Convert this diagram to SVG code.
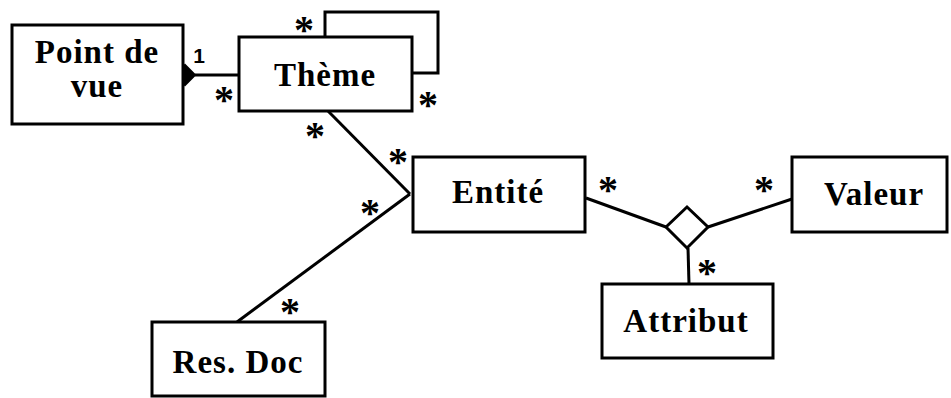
<svg xmlns="http://www.w3.org/2000/svg" width="951" height="398" viewBox="0 0 951 398">
<style>
.box{fill:#fff;stroke:#000;stroke-width:3}
.lbl{font-family:"Liberation Serif","Times New Roman",serif;font-weight:bold;font-size:33px;text-anchor:middle;fill:#000;letter-spacing:1px}
.m{font-family:"Liberation Serif","Times New Roman",serif;font-weight:bold;font-size:40px;text-anchor:middle;fill:#000}
.one{font-family:"Liberation Sans",Arial,sans-serif;font-weight:bold;font-size:21px;text-anchor:middle;fill:#000}
.ln{fill:none;stroke:#000;stroke-width:3}
</style>
<rect width="951" height="398" fill="#fff"/>
<g id="connectors">
<line class="ln" x1="195" y1="75" x2="239" y2="75"/>
<path class="ln" d="M325 37 V12 H438 V73 H412"/>
<line class="ln" x1="328" y1="111" x2="410" y2="194"/>
<line class="ln" x1="237" y1="322" x2="410" y2="194"/>
<line class="ln" x1="586" y1="198" x2="666" y2="227"/>
<line class="ln" x1="708" y1="227" x2="792" y2="199"/>
<line class="ln" x1="688" y1="248" x2="689" y2="284"/>
<polygon points="175,75 185,65 195,75 185,85" fill="#000" stroke="#000" stroke-width="2"/>
<polygon class="box" points="666,227 687,207 708,227 687,248"/>
<text class="one" x="199" y="63">1</text>
<text class="m" x="224" y="113">*</text>
<text class="m" x="304" y="43">*</text>
<text class="m" x="428" y="118">*</text>
<text class="m" x="315" y="149">*</text>
<text class="m" x="398" y="175">*</text>
<text class="m" x="370" y="226">*</text>
<text class="m" x="290" y="325">*</text>
<text class="m" x="608" y="203">*</text>
<text class="m" x="764" y="203">*</text>
<text class="m" x="707" y="286">*</text>
</g>
<g id="point-de-vue">
<rect class="box" x="12" y="25" width="171" height="99"/>
<text class="lbl" x="97" y="63">Point de</text>
<text class="lbl" x="97" y="97">vue</text>
</g>
<g id="theme">
<rect class="box" x="239" y="37" width="173" height="74"/>
<text class="lbl" x="325" y="86">Thème</text>
</g>
<g id="entite">
<rect class="box" x="413" y="157" width="172" height="75"/>
<text class="lbl" x="498" y="203">Entité</text>
</g>
<g id="valeur">
<rect class="box" x="792" y="157" width="155" height="75"/>
<text class="lbl" x="874" y="205">Valeur</text>
</g>
<g id="attribut">
<rect class="box" x="602" y="284" width="171" height="74"/>
<text class="lbl" x="686" y="332">Attribut</text>
</g>
<g id="res-doc">
<rect class="box" x="152" y="322" width="173" height="74"/>
<text class="lbl" x="238" y="373">Res. Doc</text>
</g>
</svg>
